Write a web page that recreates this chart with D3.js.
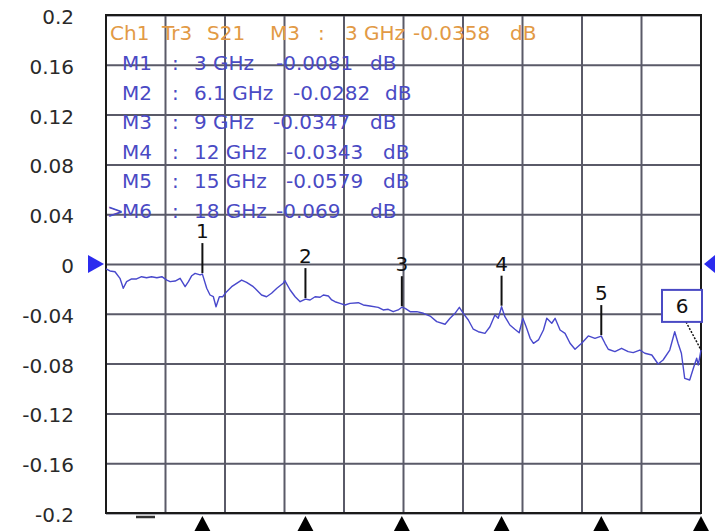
<!DOCTYPE html>
<html>
<head>
<meta charset="utf-8">
<script src="https://cdn.jsdelivr.net/npm/d3@7"></script>
<style>
  html, body { margin: 0; padding: 0; background: #fff; }
  svg { display: block; }
  text { font-family: "DejaVu Sans", Verdana, sans-serif; }
</style>
</head>
<body>
<div id="chart"></div>
<script>
// trace S21, frequency in GHz / magnitude in dB
var freqs = [0.10, 0.22, 0.37, 0.52, 0.62, 0.72, 0.87, 1.02, 1.17, 1.32, 1.47, 1.63, 1.78, 1.93, 2.03, 2.18, 2.33, 2.48, 2.58, 2.68, 2.78, 2.93, 3.00,
             3.13, 3.23, 3.33, 3.41, 3.51, 3.61, 3.73, 3.88, 4.03, 4.18, 4.33, 4.53, 4.58, 4.78, 4.93, 5.08, 5.24, 5.43, 5.48, 5.64, 5.79, 5.94, 6.10,
             6.24, 6.39, 6.54, 6.64, 6.79, 6.89, 6.99, 7.14, 7.29, 7.44, 7.69, 7.84, 8.04, 8.29, 8.44, 8.59, 8.74, 8.89, 9.00,
             9.10, 9.25, 9.45, 9.65, 9.85, 10.05, 10.30, 10.45, 10.60, 10.73, 10.85, 11.00, 11.15, 11.30, 11.50, 11.65, 11.80, 11.90, 12.00,
             12.10, 12.25, 12.40, 12.53, 12.64, 12.74, 12.86, 12.96, 13.11, 13.26, 13.36, 13.51, 13.61, 13.76, 13.91, 14.06, 14.21, 14.41, 14.61, 14.81, 15.00,
             15.11, 15.21, 15.41, 15.61, 15.81, 15.96, 16.16, 16.31, 16.52, 16.71, 16.86, 17.06, 17.21, 17.31, 17.41, 17.51, 17.66, 17.77, 17.87, 17.92, 18.00];
var s21 = [-0.0040, -0.0056, -0.0062, -0.0115, -0.0195, -0.0142, -0.0120, -0.0120, -0.0102, -0.0110, -0.0102, -0.0110, -0.0102, -0.0129, -0.0142, -0.0137, -0.0115, -0.0182, -0.0142, -0.0094, -0.0075, -0.0088, -0.0081,
           -0.0195, -0.0249, -0.0263, -0.0343, -0.0263, -0.0263, -0.0222, -0.0182, -0.0155, -0.0129, -0.0147, -0.0182, -0.0195, -0.0249, -0.0263, -0.0235, -0.0195, -0.0155, -0.0134, -0.0209, -0.0263, -0.0303, -0.0282,
           -0.0289, -0.0263, -0.0267, -0.0249, -0.0257, -0.0289, -0.0303, -0.0316, -0.0329, -0.0316, -0.0311, -0.0329, -0.0337, -0.0348, -0.0369, -0.0364, -0.0383, -0.0369, -0.0347,
           -0.0356, -0.0383, -0.0383, -0.0396, -0.0418, -0.0463, -0.0484, -0.0436, -0.0396, -0.0348, -0.0396, -0.0450, -0.0524, -0.0544, -0.0557, -0.0504, -0.0410, -0.0436, -0.0343,
           -0.0423, -0.0490, -0.0524, -0.0552, -0.0436, -0.0504, -0.0597, -0.0637, -0.0610, -0.0530, -0.0436, -0.0476, -0.0436, -0.0530, -0.0557, -0.0637, -0.0685, -0.0637, -0.0578, -0.0597, -0.0579,
           -0.0637, -0.0685, -0.0704, -0.0677, -0.0704, -0.0712, -0.0691, -0.0717, -0.0731, -0.0803, -0.0771, -0.0691, -0.0544, -0.0637, -0.0717, -0.0918, -0.0932, -0.0838, -0.0757, -0.0811, -0.0690];

// markers
var markerNames = ['M1', 'M2', 'M3', 'M4', 'M5', 'M6'];
var markerFreqs = [3, 6.1, 9, 12, 15, 18];
var markerFreqText = ['3 GHz', '6.1 GHz', '9 GHz', '12 GHz', '15 GHz', '18 GHz'];
var markerValues = [-0.0081, -0.0282, -0.0347, -0.0343, -0.0579, -0.069];
var markerValueText = ['-0.0081', '-0.0282', '-0.0347', '-0.0343', '-0.0579', '-0.069'];
var activeMarker = 5;

var headerParts = ['Ch1', 'Tr3', 'S21', 'M3', ':', '3 GHz', '-0.0358', 'dB'];
var yTicks = [0.2, 0.16, 0.12, 0.08, 0.04, 0, -0.04, -0.08, -0.12, -0.16, -0.2];
var yTickLabels = ['0.2', '0.16', '0.12', '0.08', '0.04', '0', '-0.04', '-0.08', '-0.12', '-0.16', '-0.2'];

////////////////////////////////////////////////////////////
//////////////////// layout + scales ///////////////////////
////////////////////////////////////////////////////////////
var W = 715, H = 531;
var plotL = 106, plotR = 701, plotT = 15, plotB = 513;

var x = d3.scaleLinear().domain([0.1, 18]).range([plotL, plotR]);
var y = d3.scaleLinear().domain([-0.2, 0.2]).range([plotB, plotT]);
var xDiv = d3.scaleLinear().domain([0, 10]).range([plotL, plotR]);

var traceColor = '#4848cc',
    textBlue = '#4a4ac4',
    orange = '#e29a45',
    gridColor = '#5a5a68';

var svg = d3.select('#chart').append('svg')
  .attr('width', W)
  .attr('height', H);

// grid
svg.append('g').selectAll('line.v')
  .data(d3.range(1, 10)).enter().append('line')
  .attr('x1', function(d) { return xDiv(d); })
  .attr('x2', function(d) { return xDiv(d); })
  .attr('y1', plotT).attr('y2', plotB)
  .attr('stroke', gridColor).attr('stroke-width', 2);

var yAxis = d3.axisLeft(y)
  .tickValues(yTicks)
  .tickSize(-(plotR - plotL))
  .tickPadding(32)
  .tickFormat(function(d, i) { return yTickLabels[i]; });

var gy = svg.append('g')
  .attr('transform', 'translate(' + plotL + ',0)')
  .call(yAxis);
gy.select('.domain').remove();
gy.selectAll('.tick line')
  .attr('stroke', gridColor).attr('stroke-width', 2);
gy.selectAll('.tick text')
  .attr('fill', '#2a2a2a')
  .attr('dy', '0.42em')
  .style('font-size', '20px')
  .style('font-family', '"DejaVu Sans", Verdana, sans-serif');

// frame
svg.append('rect')
  .attr('x', plotL).attr('y', plotT)
  .attr('width', plotR - plotL).attr('height', plotB - plotT)
  .attr('fill', 'none').attr('stroke', '#1a1a1a').attr('stroke-width', 2);

// header text
var headerX = [110, 162, 207, 270, 318, 345, 413, 510];
var header = svg.append('text')
  .attr('y', 40)
  .attr('fill', orange)
  .style('font-size', '20px');
header.selectAll('tspan')
  .data(headerParts).enter().append('tspan')
  .attr('x', function(d, i) { return headerX[i]; })
  .text(function(d) { return d; });

// marker table
var rowY = function(i) { return 70 + i * 29.6; };
var valueX = [276, 293, 273, 286, 286, 276];
var dbX = [370, 385, 370, 383, 383, 370];
var rows = svg.append('g').attr('fill', textBlue).style('font-size', '20px');
markerNames.forEach(function(name, i) {
  var t = rows.append('text').attr('y', rowY(i));
  if (i === activeMarker) t.append('tspan').attr('x', 107).text('>');
  t.append('tspan').attr('x', 122).text(name);
  t.append('tspan').attr('x', 172).text(':');
  t.append('tspan').attr('x', 194).text(markerFreqText[i]);
  t.append('tspan').attr('x', valueX[i]).text(markerValueText[i]);
  t.append('tspan').attr('x', dbX[i]).text('dB');
});

// trace
var line = d3.line()
  .x(function(d) { return x(d[0]); })
  .y(function(d) { return y(d[1]); });

svg.append('path')
  .datum(d3.zip(freqs, s21))
  .attr('d', line)
  .attr('fill', 'none')
  .attr('stroke', traceColor)
  .attr('stroke-width', 1.4)
  .attr('stroke-linejoin', 'round');

// marker flags on the trace
var flags = svg.append('g');
markerFreqs.forEach(function(f, i) {
  var px = x(f), py = y(markerValues[i]);
  if (i === activeMarker) {
    flags.append('line')
      .attr('x1', px - 15).attr('y1', py - 28)
      .attr('x2', px).attr('y2', py)
      .attr('stroke', '#111').attr('stroke-width', 1.5)
      .attr('stroke-dasharray', '2,1.5');
    flags.append('rect')
      .attr('x', px - 39).attr('y', py - 60)
      .attr('width', 40).attr('height', 32)
      .attr('fill', '#fff').attr('stroke', textBlue).attr('stroke-width', 2);
    flags.append('text')
      .attr('x', px - 19).attr('y', py - 37)
      .attr('text-anchor', 'middle')
      .attr('fill', '#111')
      .style('font-size', '20px')
      .text(String(i + 1));
  } else {
    flags.append('line')
      .attr('x1', px).attr('x2', px)
      .attr('y1', py - 1).attr('y2', py - 31)
      .attr('stroke', '#111').attr('stroke-width', 2);
    flags.append('text')
      .attr('x', px).attr('y', py - 36)
      .attr('text-anchor', 'middle')
      .attr('fill', '#111')
      .style('font-size', '20px')
      .text(String(i + 1));
  }
});

// reference level arrows
var y0 = y(0);
svg.append('path')
  .attr('d', 'M' + (plotL - 18) + ',' + (y0 - 9) + 'L' + (plotL - 2) + ',' + y0 + 'L' + (plotL - 18) + ',' + (y0 + 9) + 'Z')
  .attr('fill', '#2b2bee');
svg.append('path')
  .attr('d', 'M' + W + ',' + (y0 - 9) + 'L' + (plotR + 3) + ',' + y0 + 'L' + W + ',' + (y0 + 9) + 'Z')
  .attr('fill', '#2b2bee');

// marker triangles under the axis
svg.append('g').selectAll('path.tri')
  .data(markerFreqs).enter().append('path')
  .attr('d', function(f) {
    var px = x(f);
    return 'M' + (px - 9) + ',' + (H + 2) + 'L' + px + ',' + (plotB + 3) + 'L' + (px + 9) + ',' + (H + 2) + 'Z';
  })
  .attr('fill', '#000');

// small dash below the grid
svg.append('line')
  .attr('x1', 136).attr('x2', 155)
  .attr('y1', plotB + 4).attr('y2', plotB + 4)
  .attr('stroke', '#333').attr('stroke-width', 2.5);
</script>
</body>
</html>
